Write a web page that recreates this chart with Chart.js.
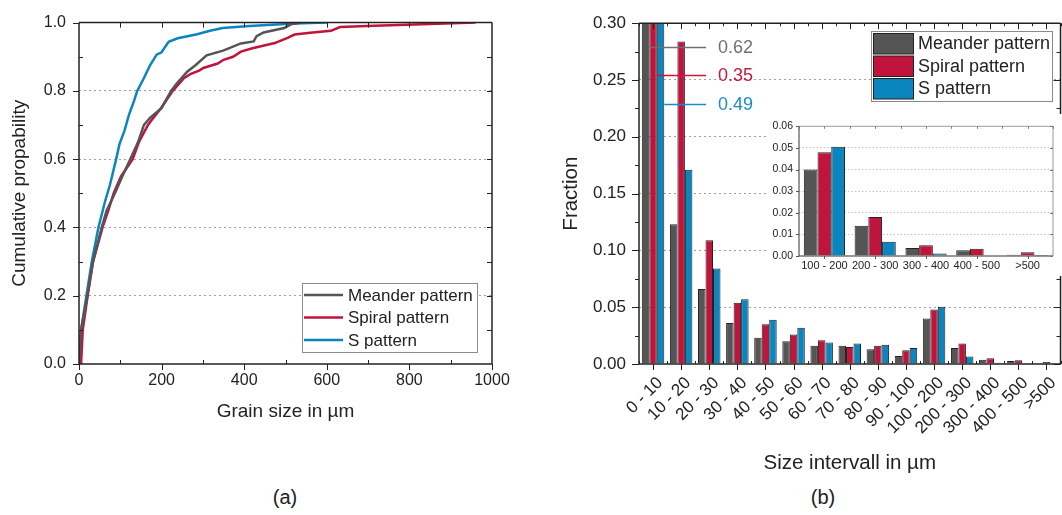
<!DOCTYPE html>
<html lang="en">
<head>
<meta charset="utf-8">
<title>Grain size distribution</title>
<script src="https://cdn.jsdelivr.net/npm/chart.js@4.4.1/dist/chart.umd.min.js"></script>
<style>
  html, body { margin: 0; padding: 0; background: #fff; overflow: hidden; width: 1062px; height: 515px; }
  .panel { position: absolute; }
  .tag { position: absolute; top: 486px; line-height: 23px; font: 20px "Liberation Sans", Arial, sans-serif; color: #222; transform: translateX(-50%); }
</style>
</head>
<body>
<div class="panel" style="left:0;top:0"><canvas id="cdfChart" width="540" height="430"></canvas></div>
<div class="panel" style="left:540px;top:0"><canvas id="fractionChart" width="530" height="480"></canvas></div>
<div class="panel" style="left:768px;top:114px"><canvas id="insetChart" width="294" height="162"></canvas></div>
<div class="tag" style="left:285px">(a)</div>
<div class="tag" style="left:823px">(b)</div>

<script>
// (a) cumulative curves: grain size in µm -> probability
const meanderSize = [0, 5, 20, 34, 55, 67, 87, 105, 124, 143, 157, 172, 200, 223, 237, 262, 282, 309, 349, 392, 423, 430, 447, 497, 513, 540]
const meanderProb = [0, 0.1, 0.2, 0.3, 0.4, 0.45, 0.5, 0.55, 0.6, 0.65, 0.7, 0.721, 0.75, 0.8, 0.822, 0.856, 0.875, 0.904, 0.918, 0.939, 0.945, 0.96, 0.971, 0.984, 0.995, 1.0]
const spiralSize = [5, 9, 21, 34, 57, 71, 84, 102, 130, 145, 167, 180, 199, 215, 227, 254, 271, 292, 301, 336, 350, 373, 392, 420, 474, 505, 522, 560, 610, 632, 715, 832, 960]
const spiralProb = [0, 0.1, 0.2, 0.3, 0.4, 0.45, 0.5, 0.55, 0.6, 0.65, 0.7, 0.721, 0.75, 0.779, 0.8, 0.837, 0.85, 0.86, 0.867, 0.88, 0.891, 0.9, 0.915, 0.925, 0.94, 0.955, 0.965, 0.97, 0.976, 0.987, 0.991, 0.995, 1.0]
const sSize = [0, 5, 18, 31, 47, 63, 75, 90, 98, 110, 121, 133, 141, 157, 172, 188, 200, 208, 217, 239, 286, 317, 348, 403, 456, 520, 600]
const sProb = [0, 0.1, 0.2, 0.3, 0.4, 0.476, 0.525, 0.6, 0.644, 0.683, 0.73, 0.77, 0.8, 0.837, 0.875, 0.906, 0.913, 0.928, 0.944, 0.954, 0.966, 0.976, 0.984, 0.989, 0.993, 0.997, 1.0]
const sizeTicks = [0, 200, 400, 600, 800, 1000]
const probTicks = [0, 0.2, 0.4, 0.6, 0.8, 1.0]

// (b) fraction per size interval
const intervals = ["0 - 10", "10 - 20", "20 - 30", "30 - 40", "40 - 50", "50 - 60", "60 - 70", "70 - 80", "80 - 90", "90 - 100", "100 - 200", "200 - 300", "300 - 400", "400 - 500", ">500"]
const fracMeander = [0.62, 0.123, 0.066, 0.036, 0.023, 0.020, 0.016, 0.016, 0.013, 0.007, 0.040, 0.014, 0.0037, 0.0027, 0.0006]
const fracSpiral = [0.35, 0.284, 0.109, 0.054, 0.035, 0.026, 0.021, 0.015, 0.016, 0.012, 0.048, 0.018, 0.005, 0.0034, 0.0017]
const fracS = [0.49, 0.171, 0.084, 0.057, 0.039, 0.032, 0.019, 0.018, 0.017, 0.014, 0.0505, 0.0066, 0.0012, 0.0002, 0.0005]
const fractionTicks = [0, 0.05, 0.1, 0.15, 0.2, 0.25, 0.3]
const insetStart = 10 // the inset repeats "100 - 200" and up
const insetTicks = [0, 0.01, 0.02, 0.03, 0.04, 0.05, 0.06]

const GRAY = "#555555"
const RED = "#c0143c"
const BLUE = "#0b85be"
const INK = "#222"
const FONT = "'Liberation Sans', Arial, Helvetica, sans-serif"

Chart.defaults.font.family = FONT
Chart.defaults.color = INK

const range = (from, to, step) => {
  const out = []
  for (let v = from; v <= to + step / 1000; v += step) out.push(+v.toFixed(5))
  return out
}
const toPoints = (xs, ys) => xs.map((x, i) => ({ x, y: ys[i] }))
const fixedTicks = (values) => (scale) => {
  scale.ticks = values.map((value) => ({ value }))
}

/**
 * Box round the plot area plus tick marks (Origin style)
 */
const framePlugin = {
  id: "frame",
  afterDatasetsDraw(chart, args, opts) {
    const { ctx, chartArea: a, scales } = chart
    ctx.save()
    opts.edges.forEach((e) => {
      ctx.strokeStyle = e.color
      ctx.lineWidth = e.width
      ctx.beginPath()
      if (e.side === "left") { ctx.moveTo(a.left, a.top); ctx.lineTo(a.left, a.bottom) }
      if (e.side === "right") { ctx.moveTo(a.right, a.top); ctx.lineTo(a.right, a.bottom) }
      if (e.side === "top") { ctx.moveTo(a.left, a.top); ctx.lineTo(a.right, a.top) }
      if (e.side === "bottom") { ctx.moveTo(a.left, a.bottom); ctx.lineTo(a.right, a.bottom) }
      ctx.stroke()
    })
    opts.marks.forEach((m) => {
      const scale = scales[m.axis]
      ctx.strokeStyle = m.color || INK
      ctx.lineWidth = m.width || 1
      ctx.beginPath()
      m.values.forEach((v) => {
        const p = Math.round(scale.getPixelForValue(v)) + 0.5
        if (m.side === "bottom") { ctx.moveTo(p, a.bottom - m.inner); ctx.lineTo(p, a.bottom + m.outer) }
        if (m.side === "top") { ctx.moveTo(p, a.top - m.outer); ctx.lineTo(p, a.top + m.inner) }
        if (m.side === "left") { ctx.moveTo(a.left - m.outer, p); ctx.lineTo(a.left + m.inner, p) }
        if (m.side === "right") { ctx.moveTo(a.right + m.outer, p); ctx.lineTo(a.right - m.inner, p) }
      })
      ctx.stroke()
    })
    ctx.restore()
  },
}

/**
 * Legend in a framed white box, line samples or filled swatches
 */
const boxLegend = {
  id: "boxLegend",
  afterDraw(chart, args, opts) {
    const { ctx } = chart
    ctx.save()
    ctx.fillStyle = "#fff"
    ctx.fillRect(opts.x, opts.y, opts.w, opts.h)
    ctx.strokeStyle = "#8a8a8a"
    ctx.lineWidth = 1
    ctx.strokeRect(opts.x + 0.5, opts.y + 0.5, opts.w, opts.h)
    ctx.font = `${opts.size}px ${FONT}`
    ctx.textBaseline = "middle"
    chart.data.datasets.forEach((ds, i) => {
      const cy = opts.y + opts.first + i * opts.row
      if (opts.kind === "line") {
        ctx.strokeStyle = ds.borderColor
        ctx.lineWidth = 2.5
        ctx.beginPath()
        ctx.moveTo(opts.x + 2, cy)
        ctx.lineTo(opts.x + 41, cy)
        ctx.stroke()
      } else {
        ctx.fillStyle = ds.backgroundColor
        ctx.fillRect(opts.x + 2.5, cy - 10, 40, 20.5)
        ctx.strokeStyle = INK
        ctx.strokeRect(opts.x + 2.5, cy - 10, 40, 20.5)
      }
      ctx.fillStyle = INK
      ctx.fillText(ds.label, opts.x + opts.textX, cy + 1)
    })
    ctx.restore()
  },
}

/**
 * Values of the clipped 0 - 10 bars, written beside them
 */
const peakLabels = {
  id: "peakLabels",
  afterDatasetsDraw(chart, args, opts) {
    const { ctx, chartArea: a, scales } = chart
    ctx.save()
    ctx.font = `18px ${FONT}`
    ctx.textBaseline = "middle"
    chart.data.datasets.forEach((ds, i) => {
      const bar = chart.getDatasetMeta(i).data[0]
      const py = Math.round(scales.y.getPixelForValue(opts.at[i])) + 0.5
      ctx.strokeStyle = opts.colors[i]
      ctx.lineWidth = 1.5
      ctx.beginPath()
      ctx.moveTo(bar.x + bar.width / 2, py)
      ctx.lineTo(a.left + opts.lineEnd, py)
      ctx.stroke()
      ctx.fillStyle = opts.colors[i]
      ctx.fillText(ds.data[0].toFixed(2), a.left + opts.textStart, py + 1)
    })
    ctx.restore()
  },
}

const whiteBackground = {
  id: "whiteBackground",
  beforeDraw(chart) {
    const { ctx, width, height } = chart
    ctx.save()
    ctx.fillStyle = "#fff"
    ctx.fillRect(0, 0, width, height)
    ctx.restore()
  },
}

// ---- (a) cumulative probability ----
new Chart(document.getElementById("cdfChart"), {
  type: "line",
  data: {
    datasets: [
      { label: "Meander pattern", data: toPoints(meanderSize, meanderProb), borderColor: GRAY },
      { label: "Spiral pattern", data: toPoints(spiralSize, spiralProb), borderColor: RED },
      { label: "S pattern", data: toPoints(sSize, sProb), borderColor: BLUE },
    ],
  },
  plugins: [framePlugin, boxLegend],
  options: {
    responsive: false,
    devicePixelRatio: 1,
    animation: false,
    layout: { padding: { top: 19, right: 48, bottom: 0, left: 0 } },
    elements: { point: { radius: 0 }, line: { borderWidth: 2.5, tension: 0 } },
    plugins: {
      legend: { display: false },
      tooltip: { enabled: false },
      boxLegend: { kind: "line", x: 302, y: 283, w: 175, h: 69, first: 12, row: 22.5, textX: 46, size: 17 },
      frame: {
        edges: ["left", "right", "top", "bottom"].map((side) => ({ side, color: INK, width: 1.5 })),
        marks: [
          { axis: "x", side: "bottom", values: sizeTicks, inner: 0, outer: 6 },
          { axis: "x", side: "bottom", values: range(100, 900, 200), inner: 4, outer: 0 },
          { axis: "x", side: "top", values: range(100, 900, 100), inner: 5, outer: 0 },
          { axis: "y", side: "left", values: probTicks, inner: 0, outer: 6 },
          { axis: "y", side: "left", values: range(0.1, 0.9, 0.2), inner: 4, outer: 0 },
          { axis: "y", side: "right", values: range(0.1, 0.9, 0.1), inner: 5, outer: 0 },
        ],
      },
    },
    scales: {
      x: {
        type: "linear",
        min: 0,
        max: 1000,
        afterBuildTicks: fixedTicks(sizeTicks),
        afterFit: (s) => { s.height = 66 },
        grid: { display: false, drawTicks: false },
        border: { display: false },
        ticks: { font: { size: 16 }, padding: 7, maxRotation: 0, callback: (v) => String(v) },
        title: { display: true, text: "Grain size in µm", font: { size: 19 }, padding: { top: 0, bottom: 6.6 } },
      },
      y: {
        min: 0,
        max: 1,
        afterBuildTicks: fixedTicks(probTicks),
        afterFit: (s) => { s.width = 79 },
        grid: {
          drawTicks: false,
          color: (c) => (c.tick && c.tick.value > 0 && c.tick.value < 1 ? "#a0a0a0" : "transparent"),
        },
        border: { display: false, dash: [2, 3] },
        ticks: { font: { size: 16 }, padding: 13, callback: (v) => v.toFixed(1) },
        title: { display: true, text: "Cumulative propability", font: { size: 19 }, padding: { top: 8, bottom: 0 } },
      },
    },
  },
})

// ---- (b) fraction per interval ----
const barStyle = { borderColor: INK, borderWidth: 1, categoryPercentage: 0.8, barPercentage: 1 }

new Chart(document.getElementById("fractionChart"), {
  type: "bar",
  data: {
    labels: intervals,
    datasets: [
      { label: "Meander pattern", data: fracMeander, backgroundColor: GRAY, ...barStyle },
      { label: "Spiral pattern", data: fracSpiral, backgroundColor: RED, ...barStyle },
      { label: "S pattern", data: fracS, backgroundColor: BLUE, ...barStyle },
    ],
  },
  plugins: [framePlugin, peakLabels, boxLegend],
  options: {
    responsive: false,
    devicePixelRatio: 1,
    animation: false,
    layout: { padding: { top: 18, right: 3, bottom: 0, left: 0 } },
    plugins: {
      legend: { display: false },
      tooltip: { enabled: false },
      peakLabels: { at: [0.279, 0.254, 0.229], colors: ["#707070", "#c8173d", "#1a8cc6"], lineEnd: 67, textStart: 79 },
      boxLegend: { kind: "box", x: 331, y: 31, w: 181, h: 70, first: 12.5, row: 22.5, textX: 47, size: 18 },
      frame: {
        edges: ["left", "right", "top", "bottom"].map((side) => ({ side, color: INK, width: 1.5 })),
        marks: [
          { axis: "x", side: "bottom", values: range(0, 14, 1), inner: 0, outer: 6 },
          { axis: "x", side: "bottom", values: range(-0.5, 14.5, 1), inner: 3, outer: 0 },
          { axis: "x", side: "top", values: range(0, 14, 1), inner: 6, outer: 0 },
          { axis: "x", side: "top", values: range(-0.5, 14.5, 1), inner: 3, outer: 0 },
          { axis: "y", side: "left", values: fractionTicks, inner: 0, outer: 7 },
          { axis: "y", side: "left", values: range(0.025, 0.275, 0.05), inner: 0, outer: 4 },
          { axis: "y", side: "right", values: fractionTicks, inner: 7, outer: 0 },
          { axis: "y", side: "right", values: range(0.025, 0.275, 0.05), inner: 4, outer: 0 },
        ],
      },
    },
    scales: {
      x: {
        afterFit: (s) => { s.height = 116 },
        grid: { display: false, drawTicks: false },
        border: { display: false },
        ticks: { font: { size: 17 }, padding: 9, labelOffset: 7, minRotation: 45, maxRotation: 45, autoSkip: false },
        title: { display: true, text: "Size intervall in µm", font: { size: 20.5 }, padding: { top: 0, bottom: 4.7 } },
      },
      y: {
        min: 0,
        max: 0.3,
        afterBuildTicks: fixedTicks(fractionTicks),
        afterFit: (s) => { s.width = 99 },
        grid: {
          drawTicks: false,
          color: (c) => (c.tick && c.tick.value > 0 && c.tick.value < 0.3 ? "#a0a0a0" : "transparent"),
        },
        border: { display: false, dash: [2, 3] },
        ticks: { font: { size: 17 }, padding: 13, callback: (v) => v.toFixed(2) },
        title: { display: true, text: "Fraction", font: { size: 20.5 }, padding: { top: 19, bottom: 0 } },
      },
    },
  },
})

// ---- (b) inset, zoom on the coarse intervals ----
new Chart(document.getElementById("insetChart"), {
  type: "bar",
  data: {
    labels: intervals.slice(insetStart),
    datasets: [
      { label: "Meander pattern", data: fracMeander.slice(insetStart), backgroundColor: GRAY, ...barStyle, categoryPercentage: 0.81 },
      { label: "Spiral pattern", data: fracSpiral.slice(insetStart), backgroundColor: RED, ...barStyle, categoryPercentage: 0.81 },
      { label: "S pattern", data: fracS.slice(insetStart), backgroundColor: BLUE, ...barStyle, categoryPercentage: 0.81 },
    ],
  },
  plugins: [whiteBackground, framePlugin],
  options: {
    responsive: false,
    devicePixelRatio: 1,
    animation: false,
    layout: { padding: { top: 10, right: 9, bottom: 0, left: 0 } },
    plugins: {
      legend: { display: false },
      tooltip: { enabled: false },
      frame: {
        edges: [
          { side: "top", color: "#9a9a9a", width: 1 },
          { side: "right", color: "#9a9a9a", width: 1 },
          { side: "left", color: "#555", width: 1.2 },
          { side: "bottom", color: "#333", width: 1.2 },
        ],
        marks: [
          { axis: "x", side: "bottom", values: range(0, 4, 1), inner: 0, outer: 3, color: "#555" },
          { axis: "x", side: "top", values: range(-0.5, 4.5, 0.5), inner: 2.5, outer: 0, color: "#777" },
          { axis: "y", side: "left", values: insetTicks, inner: 0, outer: 3, color: "#555" },
          { axis: "y", side: "right", values: insetTicks, inner: 3, outer: 0, color: "#777" },
        ],
      },
    },
    scales: {
      x: {
        afterFit: (s) => { s.height = 20 },
        grid: { display: false, drawTicks: false },
        border: { display: false },
        ticks: { font: { size: 11 }, padding: 3, maxRotation: 0, autoSkip: false },
      },
      y: {
        min: 0,
        max: 0.06,
        afterBuildTicks: fixedTicks(insetTicks),
        afterFit: (s) => { s.width = 31 },
        grid: {
          drawTicks: false,
          color: (c) => (c.tick && c.tick.value > 0 && c.tick.value < 0.06 ? "#c4c4c4" : "transparent"),
        },
        border: { display: false, dash: [1.5, 2] },
        ticks: { font: { size: 10.5 }, padding: 6, callback: (v) => v.toFixed(2) },
      },
    },
  },
})
</script>
</body>
</html>
